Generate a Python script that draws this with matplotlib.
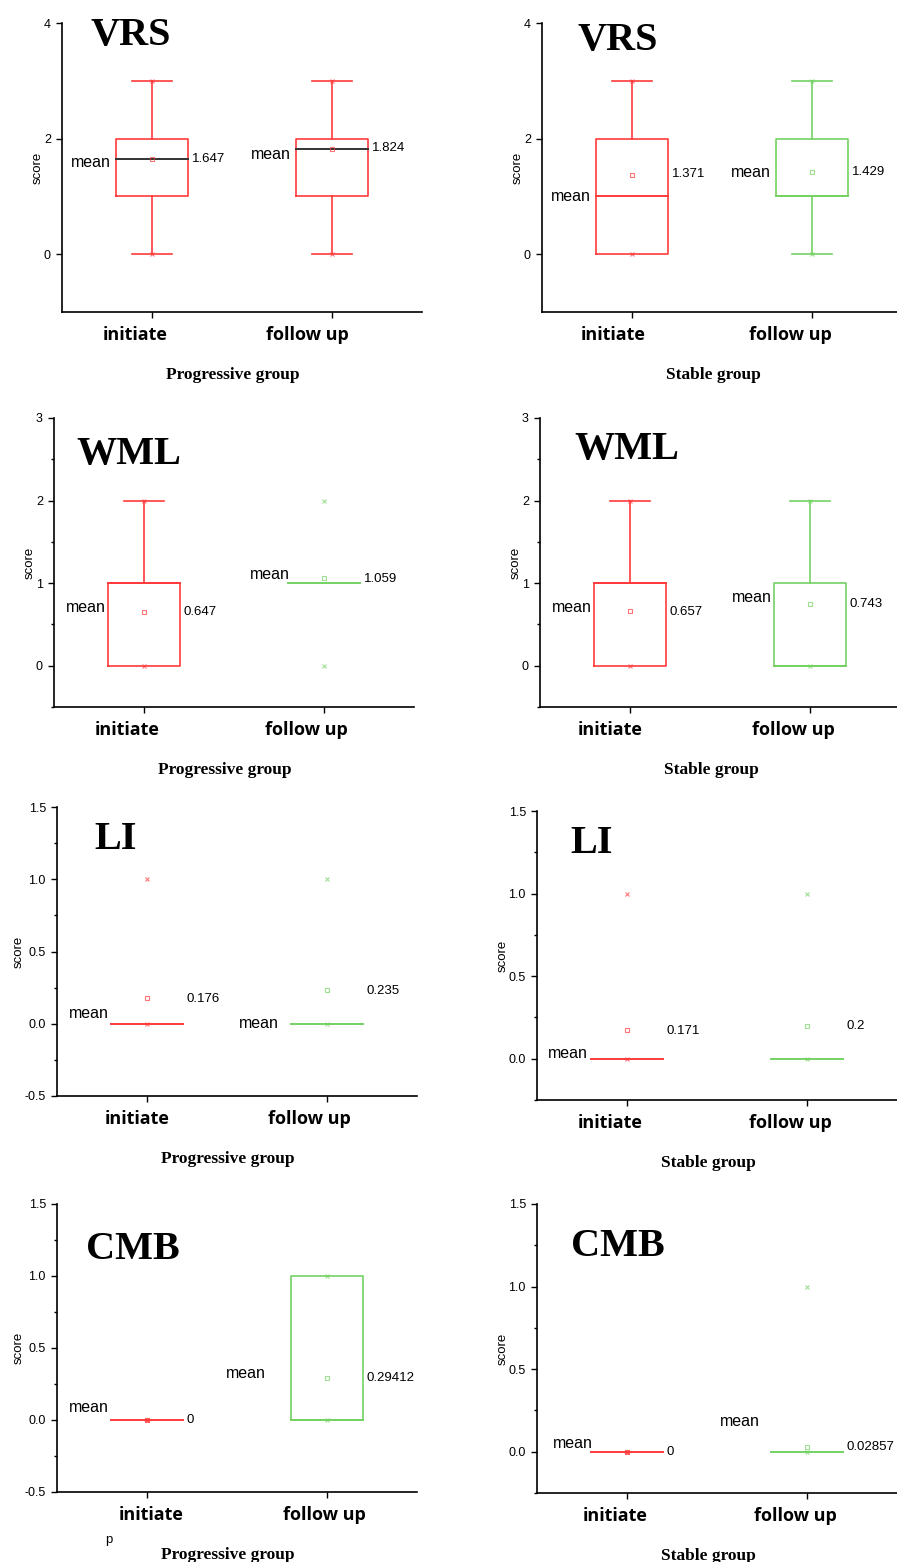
import matplotlib
matplotlib.use("Agg")  # no GUI
import matplotlib.pyplot as plt
import matplotlib.transforms as mtransforms
from matplotlib.ticker import MultipleLocator, FormatStrFormatter

plt.rcParams['axes.unicode_minus'] = False

# data: [metric][group][time]
metrics = ["VRS", "WML", "LI", "CMB"]
groups = ["Progressive group", "Stable group"]
times = ["initiate", "follow up"]

q1 = [[[1, 1], [0, 1]], [[0, 1], [0, 0]], [[0, 0], [0, 0]], [[0, 0], [0, 0]]]
q3 = [[[2, 2], [2, 2]], [[1, 1], [1, 1]], [[0, 0], [0, 0]], [[0, 1], [0, 0]]]
centre = [[[1.647, 1.824], [1, 1]], [[1, 1], [1, 0]], [[0, 0], [0, 0]], [[0, 0], [0, 0]]]
whisk_lo = [[[0, 0], [0, 0]], [[0, 1], [0, 0]], [[0, 0], [0, 0]], [[0, 0], [0, 0]]]
whisk_hi = [[[3, 3], [3, 3]], [[2, 1], [2, 2]], [[0, 0], [0, 0]], [[0, 1], [0, 0]]]
mins = [[[0, 0], [0, 0]], [[0, 0], [0, 0]], [[0, 0], [0, 0]], [[0, 0], [0, 0]]]
maxs = [[[3, 3], [3, 3]], [[2, 2], [2, 2]], [[1, 1], [1, 1]], [[0, 1], [0, 1]]]
means = [[[1.647, 1.824], [1.371, 1.429]],
         [[0.647, 1.059], [0.657, 0.743]],
         [[0.176, 0.235], [0.171, 0.2]],
         [[0, 0.29412], [0, 0.02857]]]

# y-axis settings per metric / group
ylims = [[(-1, 4), (-1, 4)], [(-0.5, 3), (-0.5, 3)],
         [(-0.5, 1.5), (-0.25, 1.5)], [(-0.5, 1.5), (-0.25, 1.5)]]
ymajor = [2, 1, 0.5, 0.5]
yminor = [None, 0.5, 0.25, 0.25]
yfmt = ["%d", "%d", "%.1f", "%.1f"]

# layout (pixels) -------------------------------------------------------
W, H = 897, 1562
ax_left = [[62, 542], [54, 540], [57, 537], [57, 537]]
ax_top = [[23, 23], [418, 418], [807, 811], [1204, 1204]]
ax_bot = [[312, 312], [707, 707], [1096, 1100], [1492, 1493]]
ax_w = 360

# label y positions (data units): "mean" text and value text
mean_lab_y = [[[1.59, 1.72], [1.0, 1.41]],
              [[0.71, 1.11], [0.71, 0.83]],
              [[0.07, 0.0], [0.03, None]],
              [[0.09, 0.32], [0.05, 0.18]]]
val_lab_y = [[[1.65, 1.83], [1.38, 1.43]],
             [[0.65, 1.05], [0.65, 0.75]],
             [[0.17, 0.23], [0.17, 0.2]],
             [[0.0, 0.29], [0.0, 0.03]]]
mean_lab_x = [[[0.77, 1.77], [0.77, 1.77]],
              [[0.79, 1.81], [0.79, 1.79]],
              [[0.79, 1.73], [0.78, None]],
              [[0.79, 1.66], [0.81, 1.74]]]
title_pos = [[(0.08, 0.925), (0.10, 0.905)], [(0.061, 0.84), (0.095, 0.858)],
             [(0.103, 0.855), (0.092, 0.855)], [(0.08, 0.81), (0.094, 0.82)]]
tick_shift = [[(-17, -25), (-19, -22)], [(-17, -18), (-20, -17)],
              [(-10, -18), (-17, -17)], [(4, -3), (-12, -12)]]  # px

RED = '#ff3b3b'
GREEN = '#74d263'
box_colors = [[[RED, RED], [RED, GREEN]], [[RED, GREEN], [RED, GREEN]],
              [[RED, GREEN], [RED, GREEN]], [[RED, GREEN], [RED, GREEN]]]
line_colors = [[['#333333', '#333333'], [RED, GREEN]], [[RED, GREEN], [RED, GREEN]],
               [[RED, GREEN], [RED, GREEN]], [[RED, GREEN], [RED, GREEN]]]

fig = plt.figure(figsize=(W / 100, H / 100), dpi=100)

pos = [1, 2]
bw = 0.4
cap = 0.11

for m in range(len(metrics)):
    for g in range(len(groups)):
        l = ax_left[m][g] / W
        b = 1 - ax_bot[m][g] / H
        h = (ax_bot[m][g] - ax_top[m][g]) / H
        ax = fig.add_axes([l, b, ax_w / W, h])

        for t in range(len(times)):
            x = pos[t]
            c = box_colors[m][g][t]
            lc = line_colors[m][g][t]
            lo, hi = q1[m][g][t], q3[m][g][t]
            # whiskers + caps
            if whisk_hi[m][g][t] > hi:
                ax.plot([x, x], [hi, whisk_hi[m][g][t]], color=c, lw=1.2)
                ax.plot([x - cap, x + cap], [whisk_hi[m][g][t]] * 2, color=c, lw=1.2)
            if whisk_lo[m][g][t] < lo:
                ax.plot([x, x], [lo, whisk_lo[m][g][t]], color=c, lw=1.2)
                ax.plot([x - cap, x + cap], [whisk_lo[m][g][t]] * 2, color=c, lw=1.2)
            # box
            if hi > lo:
                ax.plot([x - bw / 2, x + bw / 2, x + bw / 2, x - bw / 2, x - bw / 2],
                        [lo, lo, hi, hi, lo], color=c, lw=1.2)
            ax.plot([x - bw / 2, x + bw / 2], [centre[m][g][t]] * 2, color=lc, lw=1.4)
            # markers
            ax.plot([x, x], [mins[m][g][t], maxs[m][g][t]], ls='none', marker='x',
                    ms=3.5, mew=0.8, color=c, alpha=0.7)
            ax.plot(x, means[m][g][t], ls='none', marker='s', ms=3.5, mew=0.8,
                    mfc='none', mec=c, alpha=0.7)
            # labels
            if mean_lab_y[m][g][t] is not None:
                ax.text(mean_lab_x[m][g][t], mean_lab_y[m][g][t], "mean", ha='right',
                        va='center', fontsize=11.5, family='Liberation Sans')
            ax.text(x + 0.22, val_lab_y[m][g][t], f"{means[m][g][t]:g}", ha='left',
                    va='center', fontsize=9.5, family='Liberation Sans')
            # category label under the tick, slightly shifted like the source
            tr = ax.get_xaxis_transform() + mtransforms.ScaledTranslation(
                tick_shift[m][g][t] / 100, -14 / 100, fig.dpi_scale_trans)
            ax.text(x, 0, times[t], transform=tr, ha='center', va='top',
                    fontsize=13, fontweight='bold', family='Open Sans')

        ax.set_xlim(0.5, 2.5)
        ax.set_ylim(*ylims[m][g])
        ax.set_xticks(pos)
        ax.set_xticklabels([])
        ax.yaxis.set_major_locator(MultipleLocator(ymajor[m]))
        if yminor[m]:
            ax.yaxis.set_minor_locator(MultipleLocator(yminor[m]))
        ax.yaxis.set_major_formatter(FormatStrFormatter(yfmt[m]))
        ax.tick_params(axis='y', labelsize=9, length=4.5, width=1, direction='out')
        ax.tick_params(axis='y', which='minor', length=2.5, width=1)
        ax.tick_params(axis='x', length=4.5, width=1)
        for lab in ax.get_yticklabels():
            lab.set_family('Liberation Sans')
        ax.set_ylabel("score", fontsize=9.5, family='Liberation Sans', labelpad=0)
        for s in ['top', 'right']:
            ax.spines[s].set_visible(False)
        for s in ['left', 'bottom']:
            ax.spines[s].set_linewidth(1.2)

        ax.text(title_pos[m][g][0], title_pos[m][g][1], metrics[m], transform=ax.transAxes,
                ha='left', va='baseline', fontsize=29, fontweight='bold',
                family='Liberation Serif')
        ax.text(0.475, -0.218, groups[g], transform=ax.transAxes, ha='center',
                va='center', fontsize=12.5, fontweight='bold', family='Liberation Serif')

fig.text(109 / W, 1 - 1540 / H, "p", ha='center', va='center', fontsize=9.5,
         family='Liberation Sans')

fig.savefig("out.png", dpi=100)
plt.close()
